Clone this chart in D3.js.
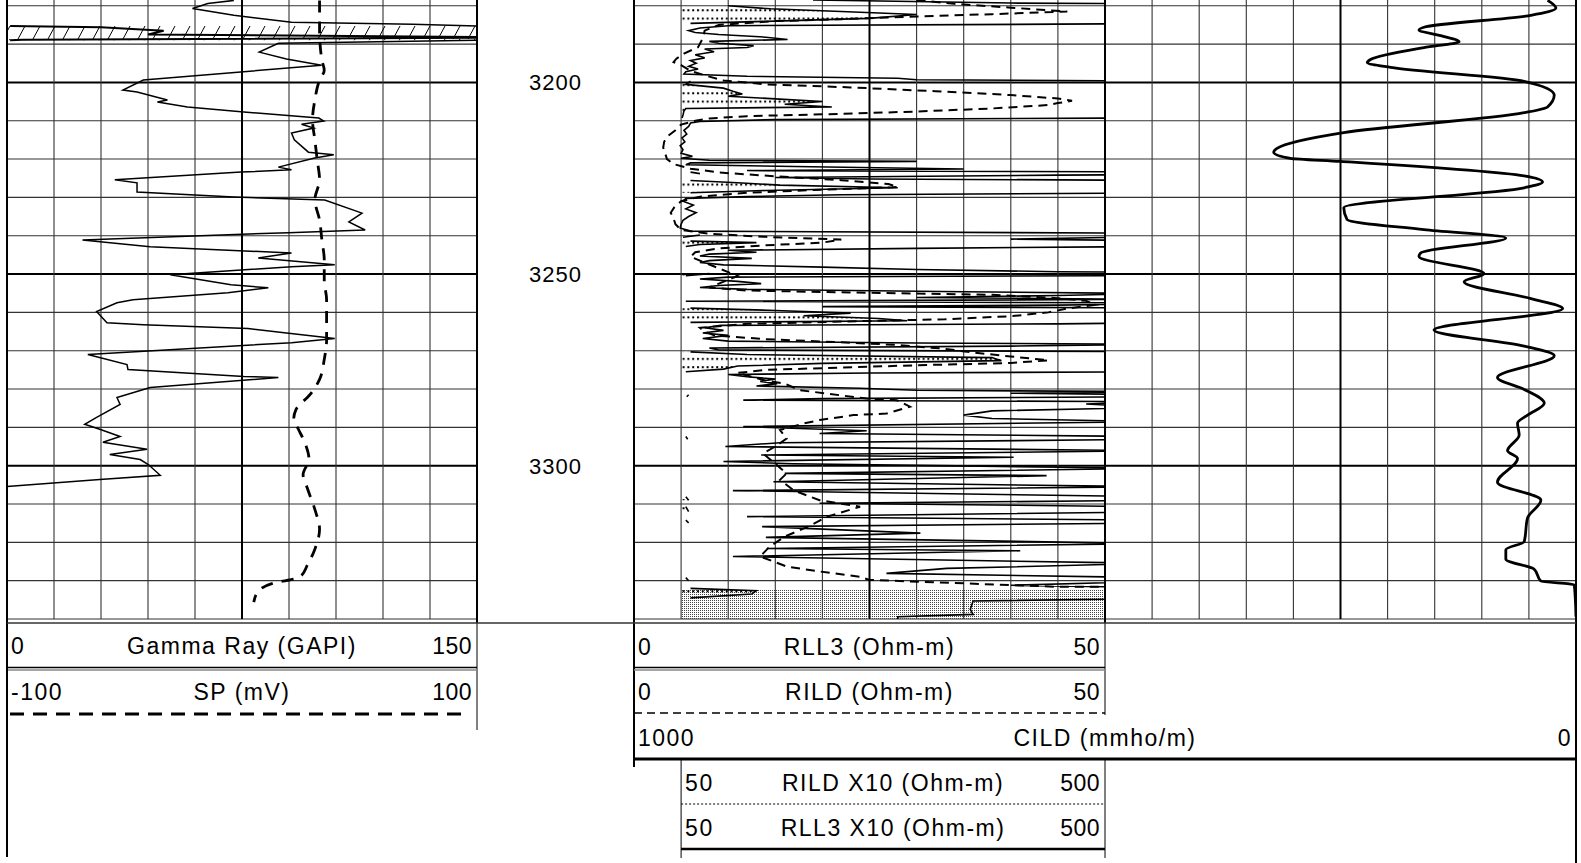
<!DOCTYPE html>
<html>
<head>
<meta charset="utf-8">
<script src="https://cdn.jsdelivr.net/npm/d3@7"></script>
<style>
  body { margin: 0; background: #fff; }
  svg { display: block; font-family: "Liberation Sans", Arial, sans-serif; }
  .lbl { font-size: 23px; letter-spacing: 1.5px; fill: #000; }
  .depth { font-size: 22px; letter-spacing: 1px; fill: #000; }
</style>
</head>
<body>
<svg id="log" width="1581" height="863"></svg>
<script>
// ---- data: [depth (m), value] ----
const depthLabels = [3200, 3250, 3300];

const gammaRay = [
  [3178.6, 72.4], [3179.4, 64.1], [3180.7, 59.2], [3182.5, 72.4], [3184.3, 90.8], [3184.8, 129.4],
  [3185.3, 151], [3185.6, 180], [3186.5, 200], [3187.5, 195], [3188.3, 320], [3188.9, 155], [3189.0, 151],
  [3189.8, 86.6], [3192.1, 80.5], [3193.9, 89.2], [3195.5, 100.4], [3199.4, 43.5], [3202.0, 37.0],
  [3202.5, 41.5], [3204.6, 51.2], [3205.1, 48.0], [3206.4, 57.6], [3207.7, 75.6], [3209.3, 99.5],
  [3210.1, 101.1], [3210.9, 94.0], [3211.9, 97.9], [3213.2, 90.8], [3215.0, 91.7], [3218.2, 96.2],
  [3218.9, 104.3], [3219.7, 98.2], [3222.1, 86.6], [3222.8, 90.8], [3223.4, 74.7], [3225.4, 34.4],
  [3226.2, 41.5], [3228.6, 41.5], [3229.9, 72.4], [3230.7, 101.4], [3234.1, 113.3], [3236.4, 109.1],
  [3238.5, 114.3], [3239.2, 89.8], [3241.1, 24.1], [3242.9, 45.7], [3244.5, 90.8], [3245.8, 80.2],
  [3247.6, 104.6], [3248.1, 90.8], [3250.2, 52.1], [3252.8, 71.5], [3253.6, 83.4], [3254.9, 70.5],
  [3256.7, 40.2], [3257.5, 35.1], [3259.8, 28.6], [3262.7, 31.9], [3263.2, 43.5], [3264.2, 76.9],
  [3265.3, 88.5], [3266.8, 104.6], [3267.9, 90.8], [3271.0, 25.8], [3273.6, 38.3], [3274.9, 38.6],
  [3276.7, 75.6], [3277.0, 86.6], [3279.6, 45.7], [3282.2, 35.1], [3284.0, 36.1], [3287.4, 28.6],
  [3289.2, 24.8], [3290.5, 29.6], [3292.4, 36.1], [3293.9, 30.6], [3295.7, 44.7], [3297.1, 32.8],
  [3298.4, 42.5], [3299.7, 45.1], [3302.5, 48.9], [3303.6, 29.6], [3305.4, 0]
];

const spontaneousPotential = [
  [3178.6, 33], [3186.4, 33], [3194.2, 34], [3196.8, 35], [3199.4, 33], [3204.6, 31], [3209.8, 30],
  [3215.0, 31], [3220.2, 32], [3225.4, 33], [3230.6, 31], [3235.9, 33], [3241.1, 34], [3246.3, 35],
  [3251.5, 35], [3256.7, 36], [3261.9, 36], [3267.1, 36], [3272.3, 35], [3277.5, 33], [3281.4, 29],
  [3285.3, 23], [3287.9, 22], [3290.5, 24], [3294.4, 27], [3298.3, 28.5], [3302.3, 26], [3306.2, 28],
  [3311.4, 31], [3316.6, 33], [3321.8, 31], [3325.7, 28], [3329.1, 24.5], [3330.7, 13], [3332.7, 7],
  [3335.6, 5]
];

const rll3 = [
  [3178.5, 19], [3179.3, 40], [3180.0, 100], [3180.8, 145], [3181.5, 220], [3182.3, 300], [3183.3, 250],
  [3184.0, 150], [3184.6, 60], [3184.8, 45], [3185.2, 10], [3185.8, 7], [3186.5, 5.8], [3187.0, 6.5],
  [3187.5, 9], [3188.2, 14], [3188.8, 16.3], [3189.3, 8], [3189.8, 9], [3190.4, 12.7], [3190.9, 12],
  [3191.3, 7.5], [3192.0, 8.5], [3192.8, 6.5], [3193.6, 7.5], [3194.3, 6], [3195.0, 6.6], [3195.8, 5.8],
  [3196.5, 6.8], [3197.2, 5.5], [3197.8, 5.3], [3198.4, 12], [3198.9, 28], [3199.3, 30], [3199.7, 60],
  [3200.5, 55], [3201.5, 95], [3202.3, 105], [3203.0, 115], [3203.6, 100], [3204.3, 150], [3205.0, 200],
  [3205.7, 160], [3206.4, 210], [3206.8, 55], [3207.5, 53], [3208.5, 52], [3209.3, 51], [3209.7, 15],
  [3210.2, 7], [3210.6, 6], [3211.5, 5.8], [3212.5, 5.3], [3213.5, 5.6], [3214.5, 5.1], [3215.5, 5.4],
  [3216.5, 4.9], [3217.5, 5.2], [3218.5, 5.0], [3219.3, 6.2], [3219.8, 5.0], [3220.3, 8], [3220.6, 30],
  [3221.0, 6], [3221.5, 5.5], [3222.2, 24], [3222.6, 35], [3223.0, 12], [3223.4, 60], [3223.8, 70],
  [3224.2, 45], [3224.8, 15], [3225.2, 25], [3225.6, 60], [3226.2, 110], [3226.8, 155], [3227.5, 280],
  [3228.2, 140], [3228.8, 60], [3229.3, 22], [3229.8, 12], [3230.3, 5.5], [3231.0, 5.2], [3232.0, 6.3],
  [3233.0, 5.5], [3234.0, 6.6], [3235.0, 5.8], [3236.0, 5.2], [3237.0, 5.0], [3238.0, 4.9], [3238.8, 6],
  [3239.3, 50], [3239.8, 70], [3240.4, 52], [3240.9, 40], [3241.4, 60], [3241.8, 130], [3242.3, 70],
  [3242.8, 55], [3243.3, 30], [3243.8, 10], [3244.3, 13], [3244.8, 8], [3245.3, 7], [3245.9, 12.5],
  [3246.5, 8], [3247.0, 7], [3247.6, 9.5], [3248.2, 20], [3248.8, 30], [3249.4, 45], [3249.9, 80],
  [3250.4, 55], [3250.8, 10], [3251.3, 7], [3251.9, 11], [3252.5, 13.5], [3253.0, 9], [3253.5, 7],
  [3254.0, 12], [3254.6, 35], [3255.1, 55], [3255.6, 45], [3256.1, 30], [3256.6, 55], [3257.1, 5.5],
  [3257.6, 60], [3258.1, 45], [3258.5, 20], [3258.9, 60], [3259.5, 150], [3260.2, 230], [3260.9, 180],
  [3261.6, 260], [3262.2, 290], [3262.6, 60], [3263.0, 45], [3263.4, 9.2], [3264.0, 7.5], [3264.7, 9.5],
  [3265.4, 7.3], [3266.0, 10], [3266.8, 7.3], [3267.5, 10], [3268.0, 30], [3268.3, 55], [3268.8, 40],
  [3269.3, 8], [3269.8, 9], [3270.3, 60], [3271.0, 120], [3271.8, 380], [3272.6, 390], [3273.3, 200],
  [3274.0, 110], [3274.8, 95], [3275.5, 55], [3275.8, 25], [3276.2, 10], [3276.8, 12], [3277.4, 15],
  [3278.0, 13.4], [3278.6, 15.2], [3279.2, 13], [3279.8, 24], [3280.3, 30], [3280.7, 55], [3281.1, 40],
  [3281.5, 58], [3282.0, 56], [3282.5, 20], [3282.9, 11.6], [3283.3, 55], [3283.9, 48], [3284.8, 55],
  [3285.7, 38], [3286.8, 35], [3287.7, 38], [3288.5, 55], [3289.8, 11.6], [3290.9, 24.7], [3291.6, 19.7],
  [3292.4, 55], [3293.1, 57], [3294.0, 15.5], [3295.0, 9.7], [3296.1, 55], [3297.2, 13.5], [3297.8, 40.3],
  [3298.9, 9.5], [3299.5, 16.9], [3300.7, 55], [3302.0, 16], [3302.6, 43.8], [3304.2, 14.8], [3305.5, 55],
  [3306.5, 10.5], [3308.1, 55], [3309.0, 58], [3309.8, 19.7], [3310.7, 55], [3312.0, 58], [3313.3, 12],
  [3314.2, 55], [3314.9, 58], [3315.9, 13.6], [3317.6, 30.4], [3318.7, 14], [3320.3, 55], [3321.6, 14.1],
  [3322.2, 41], [3323.7, 10.5], [3325.5, 55], [3326.8, 33.2], [3328.1, 26.8], [3329.2, 55], [3330.0, 58],
  [3331.2, 40], [3332.0, 60], [3332.6, 130], [3333.5, 125], [3334.5, 60], [3335.3, 36], [3337.5, 35.7],
  [3338.8, 36], [3339.4, 28], [3340.0, 28]
];

const rild = [
  [3178.5, 30], [3179.5, 34], [3180.5, 40], [3181.5, 46], [3182.2, 38], [3182.8, 30], [3183.5, 22],
  [3184.0, 15], [3185.0, 9], [3186.5, 7.5], [3188.5, 7.3], [3190.8, 6.8], [3192.5, 5.3], [3193.8, 4.5],
  [3194.7, 4.2], [3195.5, 5], [3197.0, 6], [3198.5, 8], [3199.5, 9.5], [3200.5, 14], [3201.3, 23],
  [3202.3, 32], [3203.3, 40], [3204.2, 45], [3204.8, 46.5], [3205.4, 45], [3205.9, 44], [3206.8, 38],
  [3207.6, 30], [3208.2, 22], [3208.8, 12], [3209.4, 8], [3210.0, 6.5], [3211.0, 5], [3212.5, 4.4],
  [3214.0, 3.6], [3215.5, 3.2], [3217.0, 3.1], [3218.5, 3.3], [3220.0, 3.5], [3221.3, 4.2], [3222.5, 6],
  [3223.5, 9], [3224.5, 15], [3225.5, 22], [3226.5, 27], [3227.3, 28], [3228.0, 20], [3228.8, 12],
  [3229.8, 7], [3231.0, 5], [3232.5, 4.3], [3234.0, 3.9], [3235.5, 4.2], [3237.0, 4.4], [3238.5, 5],
  [3239.5, 8], [3240.3, 14], [3241.0, 22], [3241.8, 20], [3242.5, 14], [3243.3, 9], [3244.3, 6.5],
  [3245.5, 6], [3246.5, 7], [3247.5, 8], [3248.5, 9], [3249.5, 10], [3250.5, 11], [3251.5, 10],
  [3252.5, 9], [3253.5, 8], [3254.3, 12], [3254.9, 25], [3255.4, 38], [3255.8, 41], [3256.3, 45],
  [3257.0, 48], [3258.0, 49], [3259.0, 46], [3260.0, 44], [3261.0, 40], [3261.8, 33], [3262.4, 22],
  [3263.0, 12], [3264.0, 7], [3265.0, 7.5], [3266.0, 8.5], [3267.0, 14], [3267.8, 22], [3268.5, 28],
  [3269.5, 33], [3270.5, 36], [3271.5, 40], [3272.5, 44], [3273.2, 40], [3273.8, 30], [3274.4, 22],
  [3275.0, 14], [3275.8, 11], [3276.8, 12.5], [3277.8, 14], [3278.6, 16], [3280.3, 17.6], [3281.2, 20.5],
  [3282.5, 24.7], [3282.9, 27.9], [3284.6, 29.3], [3286.4, 26.8], [3286.8, 23.3], [3288.1, 19.7],
  [3289.0, 18], [3290.7, 15.5], [3292.9, 16.2], [3295.0, 15], [3296.8, 13.7], [3299.5, 15], [3302.0, 16.2],
  [3303.7, 15.5], [3306.5, 17], [3309.0, 19.7], [3310.7, 24], [3313.3, 20.5], [3315.9, 18.5], [3318.5, 16],
  [3321.1, 14.4], [3323.7, 13.4], [3326.3, 16.2], [3327.6, 19.7], [3329.0, 24], [3329.8, 25], [3331.6, 45],
  [3332.3, 620], [3340.0, 620]
];

const cild = [
  [3178.6, 30.2], [3180.6, 21.3], [3182.5, 47.9], [3185.6, 161.4], [3186.3, 166.7], [3187.8, 143.6],
  [3189.4, 124.1], [3190.9, 161.4], [3194.0, 218.1], [3194.8, 221.6], [3196.1, 196.8], [3199.7, 55],
  [3203.3, 23.1], [3206.4, 30.2], [3207.9, 55], [3213.1, 246.5], [3217.2, 317.4], [3218.2, 320.9],
  [3219.8, 303.2], [3220.6, 250], [3224.4, 55], [3226.0, 35.5], [3227.5, 55], [3232.7, 246.5],
  [3235.8, 243], [3238.4, 161.4], [3240.6, 74.5], [3244.5, 164.9], [3245.4, 166.7], [3249.9, 97.5],
  [3252.0, 118.8], [3256.4, 47.9], [3259.0, 14.2], [3264.6, 150.7], [3268.8, 55], [3271.3, 23.1],
  [3277.0, 83.4], [3280.1, 55], [3283.7, 33.7], [3286.8, 51.4], [3288.9, 62.1], [3292.0, 60.3],
  [3296.1, 72.7], [3298.1, 62.1], [3304.3, 83.4], [3309.0, 37.3], [3313.6, 51.4], [3319.8, 55],
  [3321.9, 74.5], [3324.4, 74.5], [3327.0, 44.4], [3330.1, 37.3], [3331.1, 1.8], [3339.4, 0]
];

// header labels: [left value, title, right value]
const grLabel = ['0', 'Gamma Ray (GAPI)', '150'];
const spLabel = ['-100', 'SP (mV)', '100'];
const rll3Label = ['0', 'RLL3 (Ohm-m)', '50'];
const rildLabel = ['0', 'RILD (Ohm-m)', '50'];
const cildLabel = ['1000', 'CILD (mmho/m)', '0'];
const rildX10Label = ['50', 'RILD X10 (Ohm-m)', '500'];
const rll3X10Label = ['50', 'RLL3 X10 (Ohm-m)', '500'];

// ---- layout ----
const svg = d3.select('#log');
const depthTop = 3178.5, depthBottom = 3340;
const y = d3.scaleLinear().domain([depthTop, depthBottom]).range([0, 619]);
const yBottom = y(depthBottom);

const track1 = [7, 477], track2 = [634, 1105], track3 = [1105, 1576];
const xGR = d3.scaleLinear().domain([0, 150]).range(track1);
const xSP = d3.scaleLinear().domain([-100, 100]).range(track1);
const xRes = d3.scaleLinear().domain([0, 50]).range(track2);
const xResX10 = d3.scaleLinear().domain([50, 500]).range([xRes(5), track2[1]]);
const xCILD = d3.scaleLinear().domain([1000, 0]).range([track2[0], track3[1]]);

// ---- defs: clips and fill patterns ----
const defs = svg.append('defs');
[['clip1', track1], ['clip2', track2], ['clip3', track3]].forEach(([id, t]) => {
  defs.append('clipPath').attr('id', id).append('rect')
    .attr('x', t[0]).attr('y', 0).attr('width', t[1] - t[0]).attr('height', yBottom);
});

const hatch = defs.append('pattern').attr('id', 'hatch')
  .attr('patternUnits', 'userSpaceOnUse').attr('width', 15).attr('height', 13);
hatch.append('path').attr('d', 'M3,13 L10,0').attr('stroke', '#000').attr('stroke-width', 1);

const dots = defs.append('pattern').attr('id', 'dots')
  .attr('patternUnits', 'userSpaceOnUse').attr('width', 4.8).attr('height', 8.3);
dots.append('rect').attr('x', 1).attr('y', 1).attr('width', 2).attr('height', 2).attr('fill', '#000');

const stipple = defs.append('pattern').attr('id', 'stipple')
  .attr('patternUnits', 'userSpaceOnUse').attr('width', 2).attr('height', 2);
stipple.append('rect').attr('width', 1).attr('height', 1).attr('fill', '#444');

// ---- grids ----
function drawGrid(track, scale, values) {
  const g = svg.append('g');
  g.selectAll('line.h').data(d3.range(3180, depthBottom + 1, 10)).join('line')
    .attr('x1', track[0]).attr('x2', track[1])
    .attr('y1', d => y(d)).attr('y2', d => y(d))
    .attr('stroke', d => d % 50 === 0 ? '#000' : '#333')
    .attr('stroke-width', d => d % 50 === 0 ? 2 : 1.1);
  g.selectAll('line.v').data(values).join('line')
    .attr('x1', d => scale(d)).attr('x2', d => scale(d))
    .attr('y1', 0).attr('y2', yBottom)
    .attr('stroke', (d, i) => i === 5 ? '#000' : '#333')
    .attr('stroke-width', (d, i) => i === 5 ? 2 : 1.1);
}
drawGrid(track1, xGR, d3.range(0, 151, 15));
drawGrid(track2, xRes, d3.range(0, 51, 5));
drawGrid(track3, xCILD, d3.range(500, -1, -50));

// ---- track 1: gamma ray and SP ----
const t1 = svg.append('g').attr('clip-path', 'url(#clip1)');
t1.append('path').datum(gammaRay)
  .attr('fill', 'url(#hatch)')
  .attr('d', d3.area().defined(d => d[1] > 150)
    .x0(track1[0]).x1(d => xGR(Math.min(d[1], 150))).y(d => y(d[0])));
t1.append('path').datum(gammaRay)
  .attr('fill', 'none').attr('stroke', '#000').attr('stroke-width', 2)
  .attr('d', d3.line().defined(d => d[1] > 150).x(d => xGR(d[1] - 150)).y(d => y(d[0])));
t1.append('path').datum(gammaRay)
  .attr('fill', 'none').attr('stroke', '#000').attr('stroke-width', 1.5)
  .attr('d', d3.line().x(d => xGR(d[1])).y(d => y(d[0])));
t1.append('path').datum(spontaneousPotential)
  .attr('fill', 'none').attr('stroke', '#000').attr('stroke-width', 2.8)
  .attr('stroke-dasharray', '12,9')
  .attr('d', d3.line().x(d => xSP(d[1])).y(d => y(d[0])).curve(d3.curveMonotoneY));

// ---- track 2: resistivity with x10 backups ----
const t2 = svg.append('g').attr('clip-path', 'url(#clip2)');
t2.append('path').datum(rild)
  .attr('fill', 'url(#stipple)')
  .attr('d', d3.area().defined(d => d[1] > 50)
    .x0(xResX10(50)).x1(d => xResX10(Math.min(d[1], 500))).y(d => y(d[0])));
t2.append('path').datum(rll3)
  .attr('fill', 'url(#dots)')
  .attr('d', d3.area().defined(d => d[1] > 50)
    .x0(xResX10(50)).x1(d => xResX10(Math.min(d[1], 500))).y(d => y(d[0])));
t2.append('path').datum(rll3)
  .attr('fill', 'none').attr('stroke', '#000').attr('stroke-width', 1.6)
  .attr('d', d3.line().defined(d => d[1] > 50).x(d => xResX10(d[1])).y(d => y(d[0])));
t2.append('path').datum(rild)
  .attr('fill', 'none').attr('stroke', '#000').attr('stroke-width', 1).attr('stroke-dasharray', '2,2')
  .attr('d', d3.line().defined(d => d[1] > 50).x(d => xResX10(d[1])).y(d => y(d[0])));
t2.append('path').datum(rll3)
  .attr('fill', 'none').attr('stroke', '#000').attr('stroke-width', 1.6)
  .attr('d', d3.line().x(d => xRes(d[1])).y(d => y(d[0])));
t2.append('path').datum(rild)
  .attr('fill', 'none').attr('stroke', '#000').attr('stroke-width', 2)
  .attr('stroke-dasharray', '9,6')
  .attr('d', d3.line().x(d => xRes(d[1])).y(d => y(d[0])));

// ---- track 3: conductivity ----
svg.append('g').attr('clip-path', 'url(#clip3)')
  .append('path').datum(cild)
  .attr('fill', 'none').attr('stroke', '#000').attr('stroke-width', 2.8)
  .attr('d', d3.line().x(d => xCILD(d[1])).y(d => y(d[0])).curve(d3.curveMonotoneY));

// ---- depth labels ----
svg.selectAll('text.depth').data(depthLabels).join('text')
  .attr('class', 'depth')
  .attr('x', (track1[1] + track2[0]) / 2).attr('y', d => y(d))
  .attr('dy', '0.36em').attr('text-anchor', 'middle')
  .text(d => d);

// ---- frame ----
function vline(x, y1, y2, w) {
  svg.append('line').attr('x1', x).attr('x2', x).attr('y1', y1).attr('y2', y2)
    .attr('stroke', '#000').attr('stroke-width', w);
}
function hline(x1, x2, yy, w, color, dash) {
  svg.append('line').attr('x1', x1).attr('x2', x2).attr('y1', yy).attr('y2', yy)
    .attr('stroke', color || '#000').attr('stroke-width', w)
    .attr('stroke-dasharray', dash || null);
}
vline(track1[0], 0, 857, 2);
vline(track1[1], 0, yBottom + 4, 2);
vline(track1[1], yBottom + 4, 730, 1);
vline(track2[0], 0, 767, 2);
vline(track2[1], 0, yBottom + 4, 2);
vline(track2[1], yBottom + 4, 715, 1);
vline(track2[1], 760, 858, 1);
vline(xResX10(50), 760, 858, 1);
vline(track3[1], 0, 863, 2);
hline(track1[0], track3[1], yBottom + 4, 1.5, '#333');

// ---- header ----
function headerRow(label, x0, x1, cy) {
  const g = svg.append('g').attr('class', 'lbl');
  g.append('text').attr('x', x0 + 4).attr('y', cy).attr('dy', '0.36em').text(label[0]);
  g.append('text').attr('x', (x0 + x1) / 2).attr('y', cy).attr('dy', '0.36em')
    .attr('text-anchor', 'middle').text(label[1]);
  g.append('text').attr('x', x1 - 5).attr('y', cy).attr('dy', '0.36em')
    .attr('text-anchor', 'end').style('letter-spacing', '0.5px').text(label[2]);
}
headerRow(grLabel, track1[0], track1[1], 646);
hline(track1[0] + 1, track1[1], 667.5, 1.5);
hline(track1[0] + 1, track1[1], 670, 1.5, '#888');
headerRow(spLabel, track1[0], track1[1], 692);
hline(track1[0] + 3, track1[1] - 7, 714, 3, '#000', '14,9');

headerRow(rll3Label, track2[0], track2[1], 647);
hline(track2[0], track2[1], 667.5, 1.5);
hline(track2[0], track2[1], 670, 1.5, '#888');
headerRow(rildLabel, track2[0], track2[1], 692);
hline(track2[0], track2[1], 713, 1.5, '#000', '8,5');
headerRow(cildLabel, track2[0], track3[1], 738);
hline(track2[0], track3[1], 759, 3);
headerRow(rildX10Label, xResX10(50), track2[1], 783);
hline(xResX10(50), track2[1], 804, 1.2, '#000', '2,2');
headerRow(rll3X10Label, xResX10(50), track2[1], 828);
hline(xResX10(50), track2[1], 849, 2.5);
</script>
</body>
</html>
